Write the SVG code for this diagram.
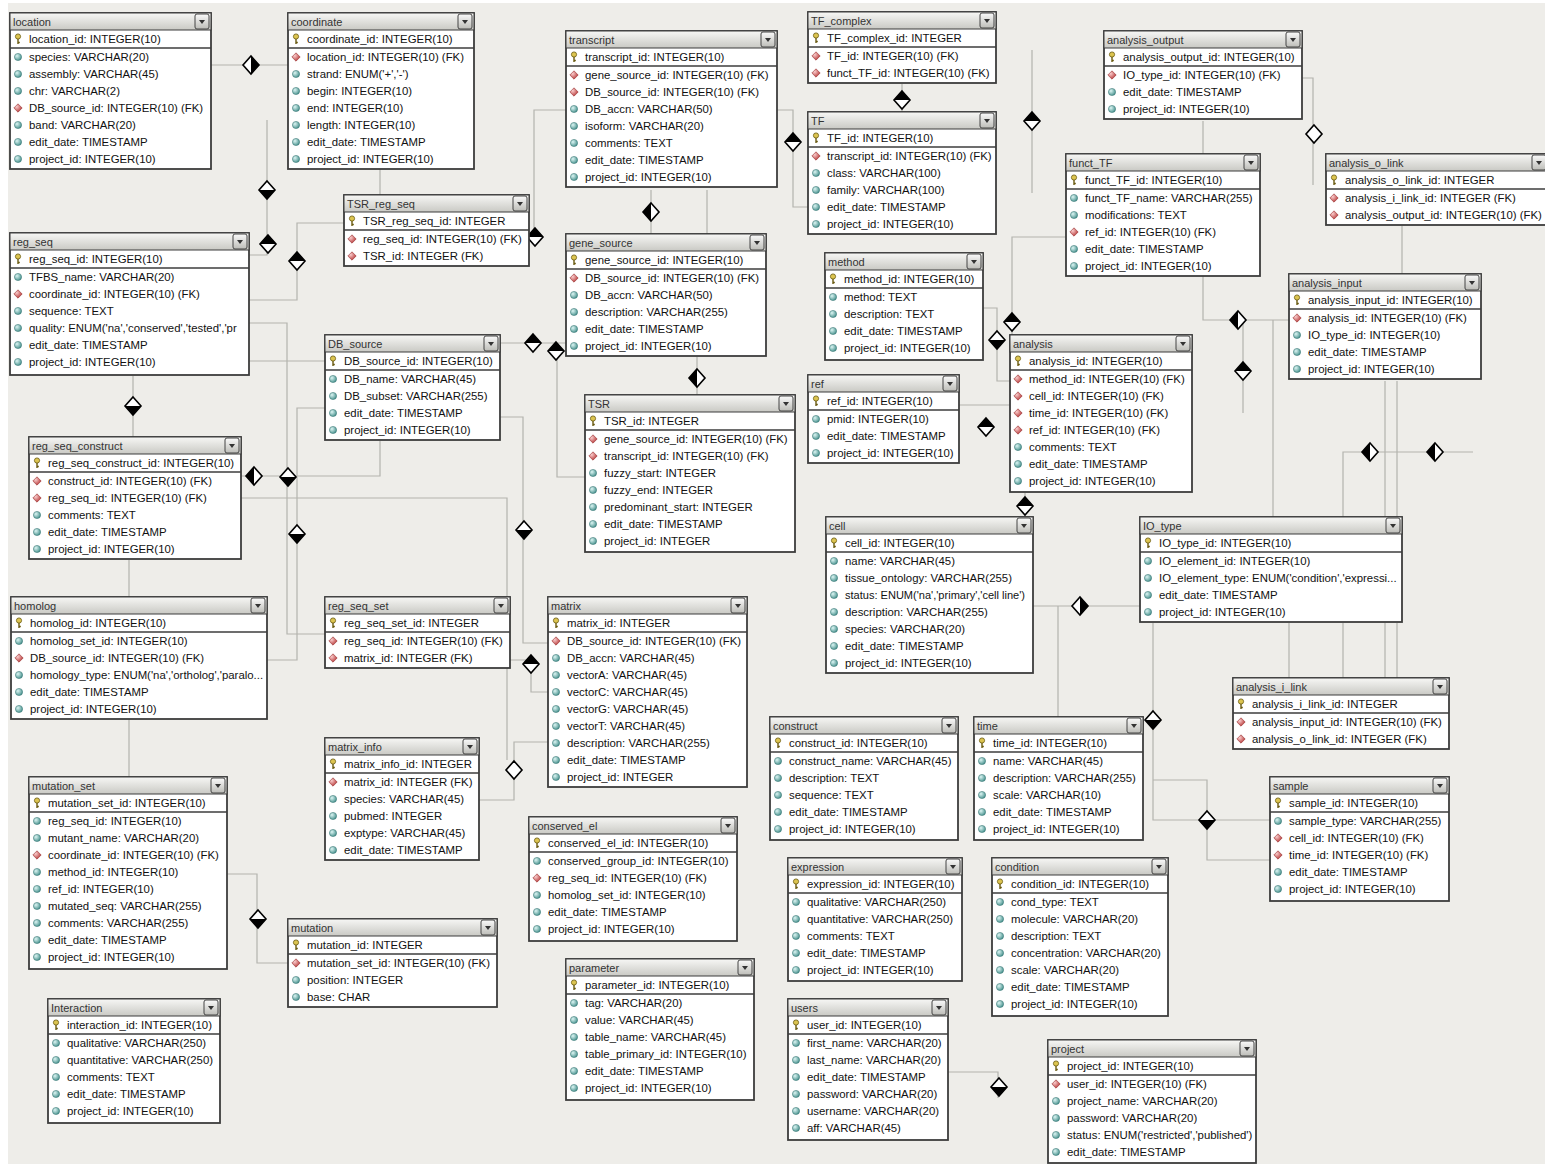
<svg xmlns="http://www.w3.org/2000/svg" xmlns:xlink="http://www.w3.org/1999/xlink" width="1545" height="1164" viewBox="0 0 1545 1164">
<defs>
<style>
.b{fill:#fff;stroke:#3c3c3c;stroke-width:1.8}
.h{fill:url(#hg);stroke:#3c3c3c;stroke-width:1}
.s{stroke:#3c3c3c;stroke-width:1.5}
.tn{font-family:"Liberation Sans",Arial,sans-serif;font-size:11px;fill:#333}
.f{font-family:"Liberation Sans",Arial,sans-serif;font-size:11.4px;fill:#111}
.c{fill:none;stroke:#b3b3ae;stroke-width:1.2}
</style>
<linearGradient id="hg" x1="0" y1="0" x2="0" y2="1"><stop offset="0" stop-color="#f7f7f5"/><stop offset="1" stop-color="#c9c9c4"/></linearGradient>
<linearGradient id="bg" x1="0" y1="0" x2="0" y2="1"><stop offset="0" stop-color="#fafafa"/><stop offset="1" stop-color="#bdbdb8"/></linearGradient>
<radialGradient id="gt" cx="0.35" cy="0.35" r="0.75"><stop offset="0" stop-color="#dcf5f3"/><stop offset="1" stop-color="#3b8985"/></radialGradient>
<radialGradient id="gr" cx="0.35" cy="0.35" r="0.75"><stop offset="0" stop-color="#f9cccc"/><stop offset="1" stop-color="#b02828"/></radialGradient>
<g id="btn"><rect x="0" y="0" width="14" height="15" rx="2" fill="url(#bg)" stroke="#444" stroke-width="1"/><path d="M4,6 L10,6 L7,10Z" fill="#333"/></g>
<g id="nn"><circle r="3.6" fill="url(#gt)" stroke="#2f6f6c" stroke-width="0.5"/></g>
<g id="fk"><path d="M0,-4.2 L4.2,0 L0,4.2 L-4.2,0Z" fill="url(#gr)" stroke="#8a2020" stroke-width="0.5"/></g>
<g id="pk"><circle cx="0" cy="-2.5" r="2.6" fill="#dcc450" stroke="#6a5a10" stroke-width="0.8"/><path d="M0,0 V5 M0,3.5 H1.8" stroke="#6a5a10" stroke-width="1.4" fill="none"/></g>
<g id="dw"><path d="M0,-9 L8,0 L0,9 L-8,0Z" fill="#fff" stroke="#000" stroke-width="1.6"/></g>
<g id="dtb"><path d="M0,-9 L8,0 L0,9 L-8,0Z" fill="#fff" stroke="#000" stroke-width="1.6"/><path d="M0,-9 L8,0 L-8,0Z" fill="#000"/></g>
<g id="dbt"><path d="M0,-9 L8,0 L0,9 L-8,0Z" fill="#fff" stroke="#000" stroke-width="1.6"/><path d="M-8,0 L8,0 L0,9Z" fill="#000"/></g>
<g id="dlr"><path d="M0,-9 L8,0 L0,9 L-8,0Z" fill="#fff" stroke="#000" stroke-width="1.6"/><path d="M0,-9 L-8,0 L0,9Z" fill="#000"/></g>
<g id="drl"><path d="M0,-9 L8,0 L0,9 L-8,0Z" fill="#fff" stroke="#000" stroke-width="1.6"/><path d="M0,-9 L8,0 L0,9Z" fill="#000"/></g>
</defs>
<rect x="0" y="0" width="1545" height="1164" fill="#fff"/>
<rect x="8" y="3" width="1537" height="1161" fill="#eeede9"/>

<g id="connectors">
<path class="c" d="M211 65 H288"/>
<path class="c" d="M267 120 V255 H249"/>
<path class="c" d="M344 223 H297 V300 H249"/>
<path class="c" d="M380 169 V195"/>
<path class="c" d="M249 323 H287 V634 H325"/>
<path class="c" d="M249 361 H325"/>
<path class="c" d="M241 476 H380 V441"/>
<path class="c" d="M267 660 H297 V408 H325"/>
<path class="c" d="M133 376 V437"/>
<path class="c" d="M129 560 V597 M129 719 V777"/>
<path class="c" d="M241 498 H507 V760"/>
<path class="c" d="M566 110 H534 V237 H529"/>
<path class="c" d="M500 343 H566"/>
<path class="c" d="M566 351 H557 V477 H585"/>
<path class="c" d="M697 357 V395"/>
<path class="c" d="M707 190 V234 M651 190 V234"/>
<path class="c" d="M500 417 H523 V643 H548"/>
<path class="c" d="M510 660 H531 V692 H548"/>
<path class="c" d="M479 800 H514 V742 H548"/>
<path class="c" d="M777 110 H793 V207 H808"/>
<path class="c" d="M902 84 V112"/>
<path class="c" d="M1032 50 V193"/>
<path class="c" d="M1302 78 H1313 V185"/>
<path class="c" d="M1066 237 H1012 V335"/>
<path class="c" d="M983 308 H997 V381 H1010"/>
<path class="c" d="M1203 121 V320 H1289"/>
<path class="c" d="M1243 320 V413"/>
<path class="c" d="M1273 320 V517"/>
<path class="c" d="M1385 381 V517 M1397 381 V517 M1385 623 V678 M1397 623 V678"/>
<path class="c" d="M1343 517 V452 H1473"/>
<path class="c" d="M1343 623 V678 M1289 623 V678"/>
<path class="c" d="M1402 226 V275"/>
<path class="c" d="M959 405 H1010"/>
<path class="c" d="M1025 493 V517"/>
<path class="c" d="M1033 606 H1140 M1058 606 V717"/>
<path class="c" d="M1153 623 V820 H1270"/>
<path class="c" d="M1153 780 H1207 V860 H1270"/>
<path class="c" d="M227 874 H257 V963 H288"/>
<path class="c" d="M948 1072 H998 V1098"/>
<use href="#drl" x="251" y="65"/>
<use href="#dbt" x="267" y="190"/>
<use href="#dtb" x="268" y="244"/>
<use href="#dtb" x="297" y="261"/>
<use href="#dtb" x="535" y="237"/>
<use href="#dlr" x="651" y="212"/>
<use href="#dtb" x="533" y="343"/>
<use href="#dtb" x="556" y="351"/>
<use href="#dlr" x="697" y="378"/>
<use href="#dtb" x="793" y="142"/>
<use href="#dtb" x="902" y="100"/>
<use href="#dtb" x="1032" y="121"/>
<use href="#dw" x="1314" y="134"/>
<use href="#dtb" x="1012" y="322"/>
<use href="#dbt" x="997" y="340"/>
<use href="#dlr" x="1238" y="320"/>
<use href="#dtb" x="1243" y="371"/>
<use href="#dtb" x="986" y="427"/>
<use href="#dtb" x="1025" y="506"/>
<use href="#dlr" x="1370" y="452"/>
<use href="#dlr" x="1435" y="452"/>
<use href="#drl" x="1080" y="606"/>
<use href="#dbt" x="1153" y="720"/>
<use href="#dbt" x="1207" y="820"/>
<use href="#dbt" x="133" y="406"/>
<use href="#dlr" x="254" y="476"/>
<use href="#dbt" x="288" y="477"/>
<use href="#dbt" x="297" y="534"/>
<use href="#dbt" x="524" y="530"/>
<use href="#dtb" x="531" y="664"/>
<use href="#dw" x="514" y="770"/>
<use href="#dbt" x="258" y="919"/>
<use href="#dbt" x="999" y="1087"/>
</g>

<g id="t-location" transform="translate(10,13)"><rect class="b" width="201" height="156"/><rect class="h" width="201" height="17"/><text class="tn" x="3" y="13">location</text><use href="#btn" x="185" y="1"/><line class="s" x1="0" y1="35" x2="201" y2="35"/>
<use href="#pk" x="8" y="26"/><text class="f" x="19" y="30">location_id: INTEGER(10)</text>
<use href="#nn" x="8" y="44"/><text class="f" x="19" y="48">species: VARCHAR(20)</text>
<use href="#nn" x="8" y="61"/><text class="f" x="19" y="65">assembly: VARCHAR(45)</text>
<use href="#nn" x="8" y="78"/><text class="f" x="19" y="82">chr: VARCHAR(2)</text>
<use href="#fk" x="8" y="95"/><text class="f" x="19" y="99">DB_source_id: INTEGER(10) (FK)</text>
<use href="#nn" x="8" y="112"/><text class="f" x="19" y="116">band: VARCHAR(20)</text>
<use href="#nn" x="8" y="129"/><text class="f" x="19" y="133">edit_date: TIMESTAMP</text>
<use href="#nn" x="8" y="146"/><text class="f" x="19" y="150">project_id: INTEGER(10)</text></g>

<g id="t-coordinate" transform="translate(288,13)"><rect class="b" width="186" height="156"/><rect class="h" width="186" height="17"/><text class="tn" x="3" y="13">coordinate</text><use href="#btn" x="170" y="1"/><line class="s" x1="0" y1="35" x2="186" y2="35"/>
<use href="#pk" x="8" y="26"/><text class="f" x="19" y="30">coordinate_id: INTEGER(10)</text>
<use href="#fk" x="8" y="44"/><text class="f" x="19" y="48">location_id: INTEGER(10) (FK)</text>
<use href="#nn" x="8" y="61"/><text class="f" x="19" y="65">strand: ENUM('+','-')</text>
<use href="#nn" x="8" y="78"/><text class="f" x="19" y="82">begin: INTEGER(10)</text>
<use href="#nn" x="8" y="95"/><text class="f" x="19" y="99">end: INTEGER(10)</text>
<use href="#nn" x="8" y="112"/><text class="f" x="19" y="116">length: INTEGER(10)</text>
<use href="#nn" x="8" y="129"/><text class="f" x="19" y="133">edit_date: TIMESTAMP</text>
<use href="#nn" x="8" y="146"/><text class="f" x="19" y="150">project_id: INTEGER(10)</text></g>

<g id="t-transcript" transform="translate(566,31)"><rect class="b" width="211" height="156"/><rect class="h" width="211" height="17"/><text class="tn" x="3" y="13">transcript</text><use href="#btn" x="195" y="1"/><line class="s" x1="0" y1="35" x2="211" y2="35"/>
<use href="#pk" x="8" y="26"/><text class="f" x="19" y="30">transcript_id: INTEGER(10)</text>
<use href="#fk" x="8" y="44"/><text class="f" x="19" y="48">gene_source_id: INTEGER(10) (FK)</text>
<use href="#fk" x="8" y="61"/><text class="f" x="19" y="65">DB_source_id: INTEGER(10) (FK)</text>
<use href="#nn" x="8" y="78"/><text class="f" x="19" y="82">DB_accn: VARCHAR(50)</text>
<use href="#nn" x="8" y="95"/><text class="f" x="19" y="99">isoform: VARCHAR(20)</text>
<use href="#nn" x="8" y="112"/><text class="f" x="19" y="116">comments: TEXT</text>
<use href="#nn" x="8" y="129"/><text class="f" x="19" y="133">edit_date: TIMESTAMP</text>
<use href="#nn" x="8" y="146"/><text class="f" x="19" y="150">project_id: INTEGER(10)</text></g>

<g id="t-TF_complex" transform="translate(808,12)"><rect class="b" width="188" height="71"/><rect class="h" width="188" height="17"/><text class="tn" x="3" y="13">TF_complex</text><use href="#btn" x="172" y="1"/><line class="s" x1="0" y1="35" x2="188" y2="35"/>
<use href="#pk" x="8" y="26"/><text class="f" x="19" y="30">TF_complex_id: INTEGER</text>
<use href="#fk" x="8" y="44"/><text class="f" x="19" y="48">TF_id: INTEGER(10) (FK)</text>
<use href="#fk" x="8" y="61"/><text class="f" x="19" y="65">funct_TF_id: INTEGER(10) (FK)</text></g>

<g id="t-TF" transform="translate(808,112)"><rect class="b" width="188" height="122"/><rect class="h" width="188" height="17"/><text class="tn" x="3" y="13">TF</text><use href="#btn" x="172" y="1"/><line class="s" x1="0" y1="35" x2="188" y2="35"/>
<use href="#pk" x="8" y="26"/><text class="f" x="19" y="30">TF_id: INTEGER(10)</text>
<use href="#fk" x="8" y="44"/><text class="f" x="19" y="48">transcript_id: INTEGER(10) (FK)</text>
<use href="#nn" x="8" y="61"/><text class="f" x="19" y="65">class: VARCHAR(100)</text>
<use href="#nn" x="8" y="78"/><text class="f" x="19" y="82">family: VARCHAR(100)</text>
<use href="#nn" x="8" y="95"/><text class="f" x="19" y="99">edit_date: TIMESTAMP</text>
<use href="#nn" x="8" y="112"/><text class="f" x="19" y="116">project_id: INTEGER(10)</text></g>

<g id="t-analysis_output" transform="translate(1104,31)"><rect class="b" width="198" height="88"/><rect class="h" width="198" height="17"/><text class="tn" x="3" y="13">analysis_output</text><use href="#btn" x="182" y="1"/><line class="s" x1="0" y1="35" x2="198" y2="35"/>
<use href="#pk" x="8" y="26"/><text class="f" x="19" y="30">analysis_output_id: INTEGER(10)</text>
<use href="#fk" x="8" y="44"/><text class="f" x="19" y="48">IO_type_id: INTEGER(10) (FK)</text>
<use href="#nn" x="8" y="61"/><text class="f" x="19" y="65">edit_date: TIMESTAMP</text>
<use href="#nn" x="8" y="78"/><text class="f" x="19" y="82">project_id: INTEGER(10)</text></g>

<g id="t-funct_TF" transform="translate(1066,154)"><rect class="b" width="194" height="122"/><rect class="h" width="194" height="17"/><text class="tn" x="3" y="13">funct_TF</text><use href="#btn" x="178" y="1"/><line class="s" x1="0" y1="35" x2="194" y2="35"/>
<use href="#pk" x="8" y="26"/><text class="f" x="19" y="30">funct_TF_id: INTEGER(10)</text>
<use href="#nn" x="8" y="44"/><text class="f" x="19" y="48">funct_TF_name: VARCHAR(255)</text>
<use href="#nn" x="8" y="61"/><text class="f" x="19" y="65">modifications: TEXT</text>
<use href="#fk" x="8" y="78"/><text class="f" x="19" y="82">ref_id: INTEGER(10) (FK)</text>
<use href="#nn" x="8" y="95"/><text class="f" x="19" y="99">edit_date: TIMESTAMP</text>
<use href="#nn" x="8" y="112"/><text class="f" x="19" y="116">project_id: INTEGER(10)</text></g>

<g id="t-analysis_o_link" transform="translate(1326,154)"><rect class="b" width="222" height="71"/><rect class="h" width="222" height="17"/><text class="tn" x="3" y="13">analysis_o_link</text><use href="#btn" x="206" y="1"/><line class="s" x1="0" y1="35" x2="222" y2="35"/>
<use href="#pk" x="8" y="26"/><text class="f" x="19" y="30">analysis_o_link_id: INTEGER</text>
<use href="#fk" x="8" y="44"/><text class="f" x="19" y="48">analysis_i_link_id: INTEGER (FK)</text>
<use href="#fk" x="8" y="61"/><text class="f" x="19" y="65">analysis_output_id: INTEGER(10) (FK)</text></g>

<g id="t-analysis_input" transform="translate(1289,274)"><rect class="b" width="192" height="105"/><rect class="h" width="192" height="17"/><text class="tn" x="3" y="13">analysis_input</text><use href="#btn" x="176" y="1"/><line class="s" x1="0" y1="35" x2="192" y2="35"/>
<use href="#pk" x="8" y="26"/><text class="f" x="19" y="30">analysis_input_id: INTEGER(10)</text>
<use href="#fk" x="8" y="44"/><text class="f" x="19" y="48">analysis_id: INTEGER(10) (FK)</text>
<use href="#nn" x="8" y="61"/><text class="f" x="19" y="65">IO_type_id: INTEGER(10)</text>
<use href="#nn" x="8" y="78"/><text class="f" x="19" y="82">edit_date: TIMESTAMP</text>
<use href="#nn" x="8" y="95"/><text class="f" x="19" y="99">project_id: INTEGER(10)</text></g>

<g id="t-method" transform="translate(825,253)"><rect class="b" width="158" height="107"/><rect class="h" width="158" height="17"/><text class="tn" x="3" y="13">method</text><use href="#btn" x="142" y="1"/><line class="s" x1="0" y1="35" x2="158" y2="35"/>
<use href="#pk" x="8" y="26"/><text class="f" x="19" y="30">method_id: INTEGER(10)</text>
<use href="#nn" x="8" y="44"/><text class="f" x="19" y="48">method: TEXT</text>
<use href="#nn" x="8" y="61"/><text class="f" x="19" y="65">description: TEXT</text>
<use href="#nn" x="8" y="78"/><text class="f" x="19" y="82">edit_date: TIMESTAMP</text>
<use href="#nn" x="8" y="95"/><text class="f" x="19" y="99">project_id: INTEGER(10)</text></g>

<g id="t-analysis" transform="translate(1010,335)"><rect class="b" width="182" height="157"/><rect class="h" width="182" height="17"/><text class="tn" x="3" y="13">analysis</text><use href="#btn" x="166" y="1"/><line class="s" x1="0" y1="35" x2="182" y2="35"/>
<use href="#pk" x="8" y="26"/><text class="f" x="19" y="30">analysis_id: INTEGER(10)</text>
<use href="#fk" x="8" y="44"/><text class="f" x="19" y="48">method_id: INTEGER(10) (FK)</text>
<use href="#fk" x="8" y="61"/><text class="f" x="19" y="65">cell_id: INTEGER(10) (FK)</text>
<use href="#fk" x="8" y="78"/><text class="f" x="19" y="82">time_id: INTEGER(10) (FK)</text>
<use href="#fk" x="8" y="95"/><text class="f" x="19" y="99">ref_id: INTEGER(10) (FK)</text>
<use href="#nn" x="8" y="112"/><text class="f" x="19" y="116">comments: TEXT</text>
<use href="#nn" x="8" y="129"/><text class="f" x="19" y="133">edit_date: TIMESTAMP</text>
<use href="#nn" x="8" y="146"/><text class="f" x="19" y="150">project_id: INTEGER(10)</text></g>

<g id="t-ref" transform="translate(808,375)"><rect class="b" width="151" height="88"/><rect class="h" width="151" height="17"/><text class="tn" x="3" y="13">ref</text><use href="#btn" x="135" y="1"/><line class="s" x1="0" y1="35" x2="151" y2="35"/>
<use href="#pk" x="8" y="26"/><text class="f" x="19" y="30">ref_id: INTEGER(10)</text>
<use href="#nn" x="8" y="44"/><text class="f" x="19" y="48">pmid: INTEGER(10)</text>
<use href="#nn" x="8" y="61"/><text class="f" x="19" y="65">edit_date: TIMESTAMP</text>
<use href="#nn" x="8" y="78"/><text class="f" x="19" y="82">project_id: INTEGER(10)</text></g>

<g id="t-cell" transform="translate(826,517)"><rect class="b" width="207" height="156"/><rect class="h" width="207" height="17"/><text class="tn" x="3" y="13">cell</text><use href="#btn" x="191" y="1"/><line class="s" x1="0" y1="35" x2="207" y2="35"/>
<use href="#pk" x="8" y="26"/><text class="f" x="19" y="30">cell_id: INTEGER(10)</text>
<use href="#nn" x="8" y="44"/><text class="f" x="19" y="48">name: VARCHAR(45)</text>
<use href="#nn" x="8" y="61"/><text class="f" x="19" y="65">tissue_ontology: VARCHAR(255)</text>
<use href="#nn" x="8" y="78"/><text class="f" x="19" y="82" textLength="180" lengthAdjust="spacingAndGlyphs">status: ENUM('na','primary','cell line')</text>
<use href="#nn" x="8" y="95"/><text class="f" x="19" y="99">description: VARCHAR(255)</text>
<use href="#nn" x="8" y="112"/><text class="f" x="19" y="116">species: VARCHAR(20)</text>
<use href="#nn" x="8" y="129"/><text class="f" x="19" y="133">edit_date: TIMESTAMP</text>
<use href="#nn" x="8" y="146"/><text class="f" x="19" y="150">project_id: INTEGER(10)</text></g>

<g id="t-IO_type" transform="translate(1140,517)"><rect class="b" width="262" height="105"/><rect class="h" width="262" height="17"/><text class="tn" x="3" y="13">IO_type</text><use href="#btn" x="246" y="1"/><line class="s" x1="0" y1="35" x2="262" y2="35"/>
<use href="#pk" x="8" y="26"/><text class="f" x="19" y="30">IO_type_id: INTEGER(10)</text>
<use href="#nn" x="8" y="44"/><text class="f" x="19" y="48">IO_element_id: INTEGER(10)</text>
<use href="#nn" x="8" y="61"/><text class="f" x="19" y="65">IO_element_type: ENUM('condition','expressi...</text>
<use href="#nn" x="8" y="78"/><text class="f" x="19" y="82">edit_date: TIMESTAMP</text>
<use href="#nn" x="8" y="95"/><text class="f" x="19" y="99">project_id: INTEGER(10)</text></g>

<g id="t-analysis_i_link" transform="translate(1233,678)"><rect class="b" width="216" height="71"/><rect class="h" width="216" height="17"/><text class="tn" x="3" y="13">analysis_i_link</text><use href="#btn" x="200" y="1"/><line class="s" x1="0" y1="35" x2="216" y2="35"/>
<use href="#pk" x="8" y="26"/><text class="f" x="19" y="30">analysis_i_link_id: INTEGER</text>
<use href="#fk" x="8" y="44"/><text class="f" x="19" y="48">analysis_input_id: INTEGER(10) (FK)</text>
<use href="#fk" x="8" y="61"/><text class="f" x="19" y="65">analysis_o_link_id: INTEGER (FK)</text></g>

<g id="t-sample" transform="translate(1270,777)"><rect class="b" width="179" height="124"/><rect class="h" width="179" height="17"/><text class="tn" x="3" y="13">sample</text><use href="#btn" x="163" y="1"/><line class="s" x1="0" y1="35" x2="179" y2="35"/>
<use href="#pk" x="8" y="26"/><text class="f" x="19" y="30">sample_id: INTEGER(10)</text>
<use href="#nn" x="8" y="44"/><text class="f" x="19" y="48">sample_type: VARCHAR(255)</text>
<use href="#fk" x="8" y="61"/><text class="f" x="19" y="65">cell_id: INTEGER(10) (FK)</text>
<use href="#fk" x="8" y="78"/><text class="f" x="19" y="82">time_id: INTEGER(10) (FK)</text>
<use href="#nn" x="8" y="95"/><text class="f" x="19" y="99">edit_date: TIMESTAMP</text>
<use href="#nn" x="8" y="112"/><text class="f" x="19" y="116">project_id: INTEGER(10)</text></g>

<g id="t-reg_seq" transform="translate(10,233)"><rect class="b" width="239" height="142"/><rect class="h" width="239" height="17"/><text class="tn" x="3" y="13">reg_seq</text><use href="#btn" x="223" y="1"/><line class="s" x1="0" y1="35" x2="239" y2="35"/>
<use href="#pk" x="8" y="26"/><text class="f" x="19" y="30">reg_seq_id: INTEGER(10)</text>
<use href="#nn" x="8" y="44"/><text class="f" x="19" y="48">TFBS_name: VARCHAR(20)</text>
<use href="#fk" x="8" y="61"/><text class="f" x="19" y="65">coordinate_id: INTEGER(10) (FK)</text>
<use href="#nn" x="8" y="78"/><text class="f" x="19" y="82">sequence: TEXT</text>
<use href="#nn" x="8" y="95"/><text class="f" x="19" y="99">quality: ENUM('na','conserved','tested','pr</text>
<use href="#nn" x="8" y="112"/><text class="f" x="19" y="116">edit_date: TIMESTAMP</text>
<use href="#nn" x="8" y="129"/><text class="f" x="19" y="133">project_id: INTEGER(10)</text></g>

<g id="t-TSR_reg_seq" transform="translate(344,195)"><rect class="b" width="185" height="71"/><rect class="h" width="185" height="17"/><text class="tn" x="3" y="13">TSR_reg_seq</text><use href="#btn" x="169" y="1"/><line class="s" x1="0" y1="35" x2="185" y2="35"/>
<use href="#pk" x="8" y="26"/><text class="f" x="19" y="30">TSR_reg_seq_id: INTEGER</text>
<use href="#fk" x="8" y="44"/><text class="f" x="19" y="48">reg_seq_id: INTEGER(10) (FK)</text>
<use href="#fk" x="8" y="61"/><text class="f" x="19" y="65">TSR_id: INTEGER (FK)</text></g>

<g id="t-gene_source" transform="translate(566,234)"><rect class="b" width="200" height="122"/><rect class="h" width="200" height="17"/><text class="tn" x="3" y="13">gene_source</text><use href="#btn" x="184" y="1"/><line class="s" x1="0" y1="35" x2="200" y2="35"/>
<use href="#pk" x="8" y="26"/><text class="f" x="19" y="30">gene_source_id: INTEGER(10)</text>
<use href="#fk" x="8" y="44"/><text class="f" x="19" y="48">DB_source_id: INTEGER(10) (FK)</text>
<use href="#nn" x="8" y="61"/><text class="f" x="19" y="65">DB_accn: VARCHAR(50)</text>
<use href="#nn" x="8" y="78"/><text class="f" x="19" y="82">description: VARCHAR(255)</text>
<use href="#nn" x="8" y="95"/><text class="f" x="19" y="99">edit_date: TIMESTAMP</text>
<use href="#nn" x="8" y="112"/><text class="f" x="19" y="116">project_id: INTEGER(10)</text></g>

<g id="t-DB_source" transform="translate(325,335)"><rect class="b" width="175" height="105"/><rect class="h" width="175" height="17"/><text class="tn" x="3" y="13">DB_source</text><use href="#btn" x="159" y="1"/><line class="s" x1="0" y1="35" x2="175" y2="35"/>
<use href="#pk" x="8" y="26"/><text class="f" x="19" y="30">DB_source_id: INTEGER(10)</text>
<use href="#nn" x="8" y="44"/><text class="f" x="19" y="48">DB_name: VARCHAR(45)</text>
<use href="#nn" x="8" y="61"/><text class="f" x="19" y="65">DB_subset: VARCHAR(255)</text>
<use href="#nn" x="8" y="78"/><text class="f" x="19" y="82">edit_date: TIMESTAMP</text>
<use href="#nn" x="8" y="95"/><text class="f" x="19" y="99">project_id: INTEGER(10)</text></g>

<g id="t-TSR" transform="translate(585,395)"><rect class="b" width="210" height="157"/><rect class="h" width="210" height="17"/><text class="tn" x="3" y="13">TSR</text><use href="#btn" x="194" y="1"/><line class="s" x1="0" y1="35" x2="210" y2="35"/>
<use href="#pk" x="8" y="26"/><text class="f" x="19" y="30">TSR_id: INTEGER</text>
<use href="#fk" x="8" y="44"/><text class="f" x="19" y="48">gene_source_id: INTEGER(10) (FK)</text>
<use href="#fk" x="8" y="61"/><text class="f" x="19" y="65">transcript_id: INTEGER(10) (FK)</text>
<use href="#nn" x="8" y="78"/><text class="f" x="19" y="82">fuzzy_start: INTEGER</text>
<use href="#nn" x="8" y="95"/><text class="f" x="19" y="99">fuzzy_end: INTEGER</text>
<use href="#nn" x="8" y="112"/><text class="f" x="19" y="116">predominant_start: INTEGER</text>
<use href="#nn" x="8" y="129"/><text class="f" x="19" y="133">edit_date: TIMESTAMP</text>
<use href="#nn" x="8" y="146"/><text class="f" x="19" y="150">project_id: INTEGER</text></g>

<g id="t-reg_seq_construct" transform="translate(29,437)"><rect class="b" width="212" height="122"/><rect class="h" width="212" height="17"/><text class="tn" x="3" y="13">reg_seq_construct</text><use href="#btn" x="196" y="1"/><line class="s" x1="0" y1="35" x2="212" y2="35"/>
<use href="#pk" x="8" y="26"/><text class="f" x="19" y="30">reg_seq_construct_id: INTEGER(10)</text>
<use href="#fk" x="8" y="44"/><text class="f" x="19" y="48">construct_id: INTEGER(10) (FK)</text>
<use href="#fk" x="8" y="61"/><text class="f" x="19" y="65">reg_seq_id: INTEGER(10) (FK)</text>
<use href="#nn" x="8" y="78"/><text class="f" x="19" y="82">comments: TEXT</text>
<use href="#nn" x="8" y="95"/><text class="f" x="19" y="99">edit_date: TIMESTAMP</text>
<use href="#nn" x="8" y="112"/><text class="f" x="19" y="116">project_id: INTEGER(10)</text></g>

<g id="t-homolog" transform="translate(11,597)"><rect class="b" width="256" height="122"/><rect class="h" width="256" height="17"/><text class="tn" x="3" y="13">homolog</text><use href="#btn" x="240" y="1"/><line class="s" x1="0" y1="35" x2="256" y2="35"/>
<use href="#pk" x="8" y="26"/><text class="f" x="19" y="30">homolog_id: INTEGER(10)</text>
<use href="#nn" x="8" y="44"/><text class="f" x="19" y="48">homolog_set_id: INTEGER(10)</text>
<use href="#fk" x="8" y="61"/><text class="f" x="19" y="65">DB_source_id: INTEGER(10) (FK)</text>
<use href="#nn" x="8" y="78"/><text class="f" x="19" y="82">homology_type: ENUM('na','ortholog','paralo...</text>
<use href="#nn" x="8" y="95"/><text class="f" x="19" y="99">edit_date: TIMESTAMP</text>
<use href="#nn" x="8" y="112"/><text class="f" x="19" y="116">project_id: INTEGER(10)</text></g>

<g id="t-reg_seq_set" transform="translate(325,597)"><rect class="b" width="185" height="71"/><rect class="h" width="185" height="17"/><text class="tn" x="3" y="13">reg_seq_set</text><use href="#btn" x="169" y="1"/><line class="s" x1="0" y1="35" x2="185" y2="35"/>
<use href="#pk" x="8" y="26"/><text class="f" x="19" y="30">reg_seq_set_id: INTEGER</text>
<use href="#fk" x="8" y="44"/><text class="f" x="19" y="48">reg_seq_id: INTEGER(10) (FK)</text>
<use href="#fk" x="8" y="61"/><text class="f" x="19" y="65">matrix_id: INTEGER (FK)</text></g>

<g id="t-matrix" transform="translate(548,597)"><rect class="b" width="199" height="190"/><rect class="h" width="199" height="17"/><text class="tn" x="3" y="13">matrix</text><use href="#btn" x="183" y="1"/><line class="s" x1="0" y1="35" x2="199" y2="35"/>
<use href="#pk" x="8" y="26"/><text class="f" x="19" y="30">matrix_id: INTEGER</text>
<use href="#fk" x="8" y="44"/><text class="f" x="19" y="48">DB_source_id: INTEGER(10) (FK)</text>
<use href="#nn" x="8" y="61"/><text class="f" x="19" y="65">DB_accn: VARCHAR(45)</text>
<use href="#nn" x="8" y="78"/><text class="f" x="19" y="82">vectorA: VARCHAR(45)</text>
<use href="#nn" x="8" y="95"/><text class="f" x="19" y="99">vectorC: VARCHAR(45)</text>
<use href="#nn" x="8" y="112"/><text class="f" x="19" y="116">vectorG: VARCHAR(45)</text>
<use href="#nn" x="8" y="129"/><text class="f" x="19" y="133">vectorT: VARCHAR(45)</text>
<use href="#nn" x="8" y="146"/><text class="f" x="19" y="150">description: VARCHAR(255)</text>
<use href="#nn" x="8" y="163"/><text class="f" x="19" y="167">edit_date: TIMESTAMP</text>
<use href="#nn" x="8" y="180"/><text class="f" x="19" y="184">project_id: INTEGER</text></g>

<g id="t-matrix_info" transform="translate(325,738)"><rect class="b" width="154" height="122"/><rect class="h" width="154" height="17"/><text class="tn" x="3" y="13">matrix_info</text><use href="#btn" x="138" y="1"/><line class="s" x1="0" y1="35" x2="154" y2="35"/>
<use href="#pk" x="8" y="26"/><text class="f" x="19" y="30">matrix_info_id: INTEGER</text>
<use href="#fk" x="8" y="44"/><text class="f" x="19" y="48">matrix_id: INTEGER (FK)</text>
<use href="#nn" x="8" y="61"/><text class="f" x="19" y="65">species: VARCHAR(45)</text>
<use href="#nn" x="8" y="78"/><text class="f" x="19" y="82">pubmed: INTEGER</text>
<use href="#nn" x="8" y="95"/><text class="f" x="19" y="99">exptype: VARCHAR(45)</text>
<use href="#nn" x="8" y="112"/><text class="f" x="19" y="116">edit_date: TIMESTAMP</text></g>

<g id="t-mutation_set" transform="translate(29,777)"><rect class="b" width="198" height="192"/><rect class="h" width="198" height="17"/><text class="tn" x="3" y="13">mutation_set</text><use href="#btn" x="182" y="1"/><line class="s" x1="0" y1="35" x2="198" y2="35"/>
<use href="#pk" x="8" y="26"/><text class="f" x="19" y="30">mutation_set_id: INTEGER(10)</text>
<use href="#nn" x="8" y="44"/><text class="f" x="19" y="48">reg_seq_id: INTEGER(10)</text>
<use href="#nn" x="8" y="61"/><text class="f" x="19" y="65">mutant_name: VARCHAR(20)</text>
<use href="#fk" x="8" y="78"/><text class="f" x="19" y="82">coordinate_id: INTEGER(10) (FK)</text>
<use href="#nn" x="8" y="95"/><text class="f" x="19" y="99">method_id: INTEGER(10)</text>
<use href="#nn" x="8" y="112"/><text class="f" x="19" y="116">ref_id: INTEGER(10)</text>
<use href="#nn" x="8" y="129"/><text class="f" x="19" y="133">mutated_seq: VARCHAR(255)</text>
<use href="#nn" x="8" y="146"/><text class="f" x="19" y="150">comments: VARCHAR(255)</text>
<use href="#nn" x="8" y="163"/><text class="f" x="19" y="167">edit_date: TIMESTAMP</text>
<use href="#nn" x="8" y="180"/><text class="f" x="19" y="184">project_id: INTEGER(10)</text></g>

<g id="t-mutation" transform="translate(288,919)"><rect class="b" width="209" height="88"/><rect class="h" width="209" height="17"/><text class="tn" x="3" y="13">mutation</text><use href="#btn" x="193" y="1"/><line class="s" x1="0" y1="35" x2="209" y2="35"/>
<use href="#pk" x="8" y="26"/><text class="f" x="19" y="30">mutation_id: INTEGER</text>
<use href="#fk" x="8" y="44"/><text class="f" x="19" y="48">mutation_set_id: INTEGER(10) (FK)</text>
<use href="#nn" x="8" y="61"/><text class="f" x="19" y="65">position: INTEGER</text>
<use href="#nn" x="8" y="78"/><text class="f" x="19" y="82">base: CHAR</text></g>

<g id="t-Interaction" transform="translate(48,999)"><rect class="b" width="172" height="124"/><rect class="h" width="172" height="17"/><text class="tn" x="3" y="13">Interaction</text><use href="#btn" x="156" y="1"/><line class="s" x1="0" y1="35" x2="172" y2="35"/>
<use href="#pk" x="8" y="26"/><text class="f" x="19" y="30">interaction_id: INTEGER(10)</text>
<use href="#nn" x="8" y="44"/><text class="f" x="19" y="48">qualitative: VARCHAR(250)</text>
<use href="#nn" x="8" y="61"/><text class="f" x="19" y="65">quantitative: VARCHAR(250)</text>
<use href="#nn" x="8" y="78"/><text class="f" x="19" y="82">comments: TEXT</text>
<use href="#nn" x="8" y="95"/><text class="f" x="19" y="99">edit_date: TIMESTAMP</text>
<use href="#nn" x="8" y="112"/><text class="f" x="19" y="116">project_id: INTEGER(10)</text></g>

<g id="t-conserved_el" transform="translate(529,817)"><rect class="b" width="208" height="124"/><rect class="h" width="208" height="17"/><text class="tn" x="3" y="13">conserved_el</text><use href="#btn" x="192" y="1"/><line class="s" x1="0" y1="35" x2="208" y2="35"/>
<use href="#pk" x="8" y="26"/><text class="f" x="19" y="30">conserved_el_id: INTEGER(10)</text>
<use href="#nn" x="8" y="44"/><text class="f" x="19" y="48">conserved_group_id: INTEGER(10)</text>
<use href="#fk" x="8" y="61"/><text class="f" x="19" y="65">reg_seq_id: INTEGER(10) (FK)</text>
<use href="#nn" x="8" y="78"/><text class="f" x="19" y="82">homolog_set_id: INTEGER(10)</text>
<use href="#nn" x="8" y="95"/><text class="f" x="19" y="99">edit_date: TIMESTAMP</text>
<use href="#nn" x="8" y="112"/><text class="f" x="19" y="116">project_id: INTEGER(10)</text></g>

<g id="t-parameter" transform="translate(566,959)"><rect class="b" width="188" height="141"/><rect class="h" width="188" height="17"/><text class="tn" x="3" y="13">parameter</text><use href="#btn" x="172" y="1"/><line class="s" x1="0" y1="35" x2="188" y2="35"/>
<use href="#pk" x="8" y="26"/><text class="f" x="19" y="30">parameter_id: INTEGER(10)</text>
<use href="#nn" x="8" y="44"/><text class="f" x="19" y="48">tag: VARCHAR(20)</text>
<use href="#nn" x="8" y="61"/><text class="f" x="19" y="65">value: VARCHAR(45)</text>
<use href="#nn" x="8" y="78"/><text class="f" x="19" y="82">table_name: VARCHAR(45)</text>
<use href="#nn" x="8" y="95"/><text class="f" x="19" y="99">table_primary_id: INTEGER(10)</text>
<use href="#nn" x="8" y="112"/><text class="f" x="19" y="116">edit_date: TIMESTAMP</text>
<use href="#nn" x="8" y="129"/><text class="f" x="19" y="133">project_id: INTEGER(10)</text></g>

<g id="t-construct" transform="translate(770,717)"><rect class="b" width="188" height="123"/><rect class="h" width="188" height="17"/><text class="tn" x="3" y="13">construct</text><use href="#btn" x="172" y="1"/><line class="s" x1="0" y1="35" x2="188" y2="35"/>
<use href="#pk" x="8" y="26"/><text class="f" x="19" y="30">construct_id: INTEGER(10)</text>
<use href="#nn" x="8" y="44"/><text class="f" x="19" y="48">construct_name: VARCHAR(45)</text>
<use href="#nn" x="8" y="61"/><text class="f" x="19" y="65">description: TEXT</text>
<use href="#nn" x="8" y="78"/><text class="f" x="19" y="82">sequence: TEXT</text>
<use href="#nn" x="8" y="95"/><text class="f" x="19" y="99">edit_date: TIMESTAMP</text>
<use href="#nn" x="8" y="112"/><text class="f" x="19" y="116">project_id: INTEGER(10)</text></g>

<g id="t-time" transform="translate(974,717)"><rect class="b" width="169" height="123"/><rect class="h" width="169" height="17"/><text class="tn" x="3" y="13">time</text><use href="#btn" x="153" y="1"/><line class="s" x1="0" y1="35" x2="169" y2="35"/>
<use href="#pk" x="8" y="26"/><text class="f" x="19" y="30">time_id: INTEGER(10)</text>
<use href="#nn" x="8" y="44"/><text class="f" x="19" y="48">name: VARCHAR(45)</text>
<use href="#nn" x="8" y="61"/><text class="f" x="19" y="65">description: VARCHAR(255)</text>
<use href="#nn" x="8" y="78"/><text class="f" x="19" y="82">scale: VARCHAR(10)</text>
<use href="#nn" x="8" y="95"/><text class="f" x="19" y="99">edit_date: TIMESTAMP</text>
<use href="#nn" x="8" y="112"/><text class="f" x="19" y="116">project_id: INTEGER(10)</text></g>

<g id="t-expression" transform="translate(788,858)"><rect class="b" width="174" height="123"/><rect class="h" width="174" height="17"/><text class="tn" x="3" y="13">expression</text><use href="#btn" x="158" y="1"/><line class="s" x1="0" y1="35" x2="174" y2="35"/>
<use href="#pk" x="8" y="26"/><text class="f" x="19" y="30">expression_id: INTEGER(10)</text>
<use href="#nn" x="8" y="44"/><text class="f" x="19" y="48">qualitative: VARCHAR(250)</text>
<use href="#nn" x="8" y="61"/><text class="f" x="19" y="65">quantitative: VARCHAR(250)</text>
<use href="#nn" x="8" y="78"/><text class="f" x="19" y="82">comments: TEXT</text>
<use href="#nn" x="8" y="95"/><text class="f" x="19" y="99">edit_date: TIMESTAMP</text>
<use href="#nn" x="8" y="112"/><text class="f" x="19" y="116">project_id: INTEGER(10)</text></g>

<g id="t-condition" transform="translate(992,858)"><rect class="b" width="176" height="158"/><rect class="h" width="176" height="17"/><text class="tn" x="3" y="13">condition</text><use href="#btn" x="160" y="1"/><line class="s" x1="0" y1="35" x2="176" y2="35"/>
<use href="#pk" x="8" y="26"/><text class="f" x="19" y="30">condition_id: INTEGER(10)</text>
<use href="#nn" x="8" y="44"/><text class="f" x="19" y="48">cond_type: TEXT</text>
<use href="#nn" x="8" y="61"/><text class="f" x="19" y="65">molecule: VARCHAR(20)</text>
<use href="#nn" x="8" y="78"/><text class="f" x="19" y="82">description: TEXT</text>
<use href="#nn" x="8" y="95"/><text class="f" x="19" y="99">concentration: VARCHAR(20)</text>
<use href="#nn" x="8" y="112"/><text class="f" x="19" y="116">scale: VARCHAR(20)</text>
<use href="#nn" x="8" y="129"/><text class="f" x="19" y="133">edit_date: TIMESTAMP</text>
<use href="#nn" x="8" y="146"/><text class="f" x="19" y="150">project_id: INTEGER(10)</text></g>

<g id="t-users" transform="translate(788,999)"><rect class="b" width="160" height="141"/><rect class="h" width="160" height="17"/><text class="tn" x="3" y="13">users</text><use href="#btn" x="144" y="1"/><line class="s" x1="0" y1="35" x2="160" y2="35"/>
<use href="#pk" x="8" y="26"/><text class="f" x="19" y="30">user_id: INTEGER(10)</text>
<use href="#nn" x="8" y="44"/><text class="f" x="19" y="48">first_name: VARCHAR(20)</text>
<use href="#nn" x="8" y="61"/><text class="f" x="19" y="65">last_name: VARCHAR(20)</text>
<use href="#nn" x="8" y="78"/><text class="f" x="19" y="82">edit_date: TIMESTAMP</text>
<use href="#nn" x="8" y="95"/><text class="f" x="19" y="99">password: VARCHAR(20)</text>
<use href="#nn" x="8" y="112"/><text class="f" x="19" y="116">username: VARCHAR(20)</text>
<use href="#nn" x="8" y="129"/><text class="f" x="19" y="133">aff: VARCHAR(45)</text></g>

<g id="t-project" transform="translate(1048,1040)"><rect class="b" width="208" height="123"/><rect class="h" width="208" height="17"/><text class="tn" x="3" y="13">project</text><use href="#btn" x="192" y="1"/><line class="s" x1="0" y1="35" x2="208" y2="35"/>
<use href="#pk" x="8" y="26"/><text class="f" x="19" y="30">project_id: INTEGER(10)</text>
<use href="#fk" x="8" y="44"/><text class="f" x="19" y="48">user_id: INTEGER(10) (FK)</text>
<use href="#nn" x="8" y="61"/><text class="f" x="19" y="65">project_name: VARCHAR(20)</text>
<use href="#nn" x="8" y="78"/><text class="f" x="19" y="82">password: VARCHAR(20)</text>
<use href="#nn" x="8" y="95"/><text class="f" x="19" y="99">status: ENUM('restricted','published')</text>
<use href="#nn" x="8" y="112"/><text class="f" x="19" y="116">edit_date: TIMESTAMP</text></g>
</svg>
